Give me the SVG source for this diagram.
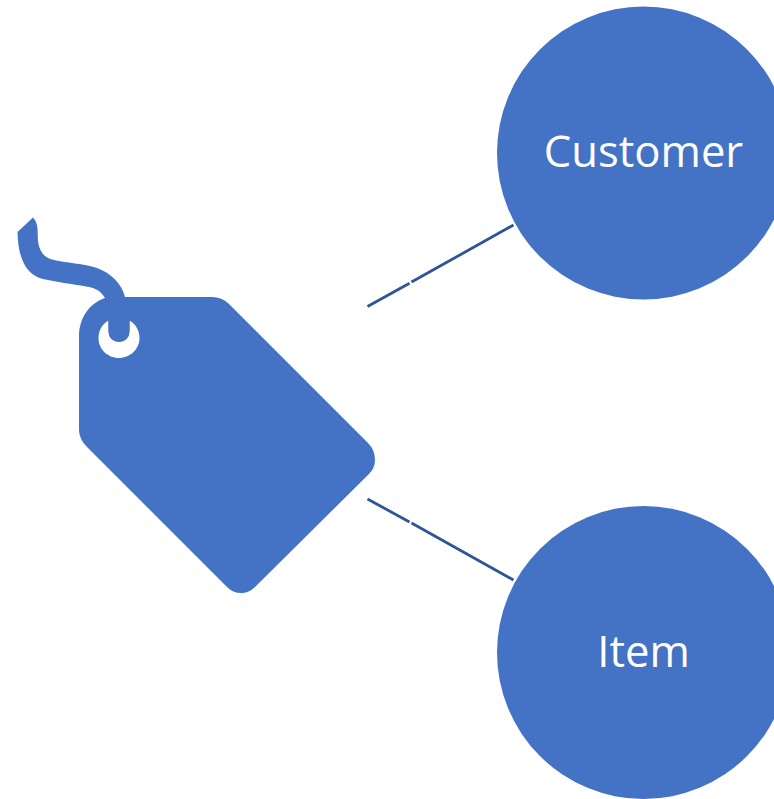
<svg xmlns="http://www.w3.org/2000/svg" width="774" height="799" viewBox="0 0 774 799">
<style>
.fill{fill:#4472c4}
.conn{fill:none;stroke:#2f5597;stroke-width:2.8}
.label{font-family:"Open Sans","Noto Sans","Liberation Sans",sans-serif;font-size:43.600px;fill:#fff;text-anchor:middle}
</style>
<rect width="774" height="799" fill="#fff"/>
<g id="connectors">
<path class="conn" d="M367.500 306.500L409.500 283.200M411.500 282L513.500 225"/>
<path class="conn" d="M367.500 499L409.500 522M411.500 523L513.500 580"/>
</g>
<g id="tag">
<path class="fill" fill-rule="evenodd" d="M119 297H212Q222 297 229 304L368 443Q375 450 375 460Q375 468 369 474L255 587Q249 593 241 593Q233 593 227 587L87 447Q79 439 79 430V337C79 317 90 303 105 298Q112 297 119 297ZM108.500 320.500C102 324 98.500 331 98.500 338C98.500 349 107.500 358 119 358C130 358 139.500 349 139.500 338C139.500 331 136 324 129.500 320.500V331.500A10.500 10.500 0 0 1 108.500 331.500Z"/>
<path class="fill" d="M108.500 331.500V316C108.500 307 108 301 105 298C100 290 95 288 86 286.500C72 284 56 282 43 279C26 275 18 258 17.500 232L33 217.500C36.500 221 37.700 226 37.700 233C37.700 241 38.500 246 41 251C43.500 255.500 46.500 258 52 259.500C66 263 84 263.500 97 268C111 273 122 284 125 297C128 303 129.500 310 129.500 320V331.500A10.500 10.500 0 0 1 108.500 331.500Z"/>
</g>
<g id="customer">
<circle class="fill" cx="643.500" cy="153" r="146.500"/>
<text class="label" x="643.500" y="167">Customer</text>
</g>
<g id="item">
<circle class="fill" cx="643.500" cy="652.500" r="146.500"/>
<text class="label" x="643.500" y="667">Item</text>
</g>
</svg>
